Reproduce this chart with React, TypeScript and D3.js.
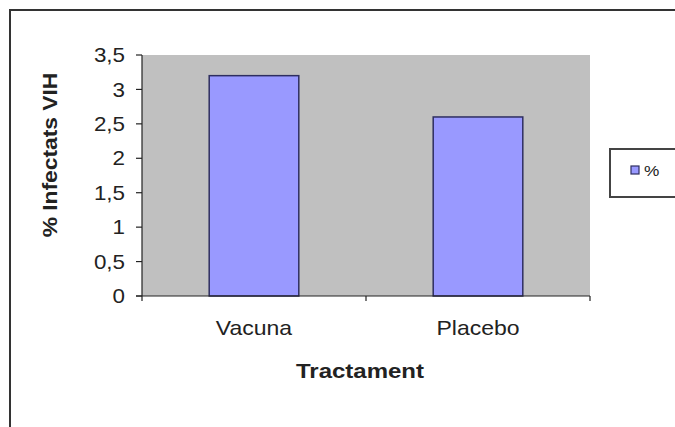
import React from "react";
import * as d3 from "d3";

// Chart data
const categories: string[] = ["Vacuna", "Placebo"];
const values: number[] = [3.2, 2.6];
const yTicks: number[] = [0, 0.5, 1, 1.5, 2, 2.5, 3, 3.5];
const seriesName = "%";
const xTitle = "Tractament";
const yTitle = "% Infectats VIH";

const width = 675;
const height = 427;
const plot = { left: 142, right: 590, top: 55, bottom: 296 };
const font = "'Liberation Sans', Arial, sans-serif";
const sx = 1.12; // the original glyphs run a bit wider than Arial

const App: React.FC = () => {
  const x = d3.scaleBand<string>().domain(categories).range([plot.left, plot.right]);
  const y = d3.scaleLinear().domain([0, 3.5]).range([plot.bottom, plot.top]);
  const fmt = (v: number) => d3.format("")(v).replace(".", ",");
  const barW = x.bandwidth() * 0.4;
  const bounds = [...categories.map((c) => x(c) as number), plot.right];

  return (
    <svg
      width={width}
      height={height}
      style={{ position: "absolute", left: 0, top: 0, background: "#fff" }}
    >
      {/* outer chart frame, runs off the right and bottom edges */}
      <rect x={10} y={10} width={800} height={600} fill="none" stroke="#333" strokeWidth={2} />

      {/* plot area */}
      <rect
        x={plot.left}
        y={plot.top}
        width={plot.right - plot.left}
        height={plot.bottom - plot.top}
        fill="#C0C0C0"
      />

      {/* bars */}
      {categories.map((c, i) => (
        <rect
          key={c}
          x={(x(c) as number) + x.bandwidth() / 2 - barW / 2}
          y={y(values[i])}
          width={barW}
          height={plot.bottom - y(values[i])}
          fill="#9999FF"
          stroke="#2E2E60"
          strokeWidth={1.5}
        />
      ))}

      {/* y axis */}
      <line x1={plot.left} x2={plot.left} y1={plot.top} y2={plot.bottom} stroke="#222" strokeWidth={1.2} />
      {yTicks.map((t) => (
        <g key={t}>
          <line x1={plot.left - 6} x2={plot.left} y1={y(t)} y2={y(t)} stroke="#222" strokeWidth={1.2} />
          <g transform={`translate(${plot.left - 17},${y(t)}) scale(${sx},1)`}>
            <text textAnchor="end" dy="0.36em" fontSize={20} fontFamily={font} fill="#222">
              {fmt(t)}
            </text>
          </g>
        </g>
      ))}

      {/* x axis */}
      <line x1={plot.left - 6} x2={plot.right} y1={plot.bottom} y2={plot.bottom} stroke="#222" strokeWidth={1.2} />
      {bounds.map((b, i) => (
        <line key={i} x1={b} x2={b} y1={plot.bottom} y2={plot.bottom + 5} stroke="#222" strokeWidth={1.2} />
      ))}
      {categories.map((c) => (
        <g key={c} transform={`translate(${(x(c) as number) + x.bandwidth() / 2},335) scale(1.15,1)`}>
          <text textAnchor="middle" fontSize={20} fontFamily={font} fill="#222">
            {c}
          </text>
        </g>
      ))}

      {/* axis titles */}
      <g transform={`translate(360,378) scale(1.2,1)`}>
        <text textAnchor="middle" fontSize={20} fontWeight="bold" fontFamily={font} fill="#222">
          {xTitle}
        </text>
      </g>
      <g transform={`translate(57,155) rotate(-90) scale(1.14,1)`}>
        <text textAnchor="middle" fontSize={20} fontWeight="bold" fontFamily={font} fill="#222">
          {yTitle}
        </text>
      </g>

      {/* legend, clipped by the right edge */}
      <rect x={610} y={149} width={90} height={48} fill="#fff" stroke="#444" strokeWidth={2} />
      <rect x={631} y={166} width={8} height={8} fill="#9999FF" stroke="#2E2E60" strokeWidth={1.2} />
      <g transform="translate(644,176) scale(1.15,1)">
        <text fontSize={15} fontFamily={font} fill="#222">
          {seriesName}
        </text>
      </g>
    </svg>
  );
};

export default App;
